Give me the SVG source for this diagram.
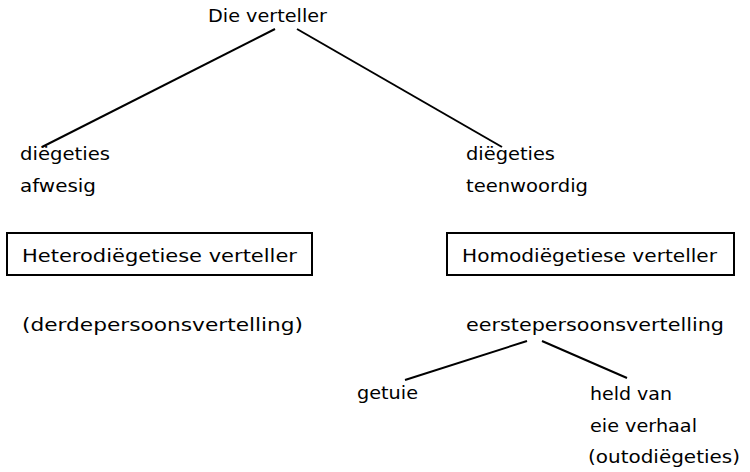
<svg xmlns="http://www.w3.org/2000/svg" width="750" height="472" viewBox="0 0 750 472">
<style>
text{font-family:"DejaVu Sans","Liberation Sans",sans-serif;font-size:17px;fill:#000;}
.box{fill:#fff;stroke:#000;stroke-width:2;}
.ln{stroke:#000;stroke-width:2;fill:none;}
</style>
<rect width="750" height="472" fill="#fff"/>
<g id="connectors">
<line class="ln" x1="275" y1="29" x2="42" y2="147"/>
<line class="ln" x1="297" y1="29" x2="502" y2="147"/>
<line class="ln" x1="527" y1="341" x2="405" y2="380"/>
<line class="ln" x1="542" y1="341" x2="627" y2="378"/>
</g>
<g id="root"><text x="208" y="22" textLength="119" lengthAdjust="spacingAndGlyphs">Die verteller</text></g>
<g id="afwesig">
<text x="20" y="160" textLength="90" lengthAdjust="spacingAndGlyphs">diëgeties</text>
<text x="20" y="192" textLength="76" lengthAdjust="spacingAndGlyphs">afwesig</text>
</g>
<g id="teenwoordig">
<text x="466" y="160" textLength="89" lengthAdjust="spacingAndGlyphs">diëgeties</text>
<text x="466" y="192" textLength="122" lengthAdjust="spacingAndGlyphs">teenwoordig</text>
</g>
<g id="hetero">
<rect class="box" x="7" y="233" width="305" height="42"/>
<text x="22" y="262" textLength="275" lengthAdjust="spacingAndGlyphs">Heterodiëgetiese verteller</text>
</g>
<g id="homo">
<rect class="box" x="447" y="233" width="287" height="42"/>
<text x="462" y="262" textLength="255" lengthAdjust="spacingAndGlyphs">Homodiëgetiese verteller</text>
</g>
<g id="derde"><text x="22" y="331" textLength="281" lengthAdjust="spacingAndGlyphs">(derdepersoonsvertelling)</text></g>
<g id="eerste"><text x="466" y="331" textLength="258" lengthAdjust="spacingAndGlyphs">eerstepersoonsvertelling</text></g>
<g id="getuie"><text x="357" y="399" textLength="61" lengthAdjust="spacingAndGlyphs">getuie</text></g>
<g id="held">
<text x="590" y="400" textLength="82" lengthAdjust="spacingAndGlyphs">held van</text>
<text x="590" y="432" textLength="107" lengthAdjust="spacingAndGlyphs">eie verhaal</text>
<text x="588" y="463" textLength="152" lengthAdjust="spacingAndGlyphs">(outodiëgeties)</text>
</g>
</svg>
